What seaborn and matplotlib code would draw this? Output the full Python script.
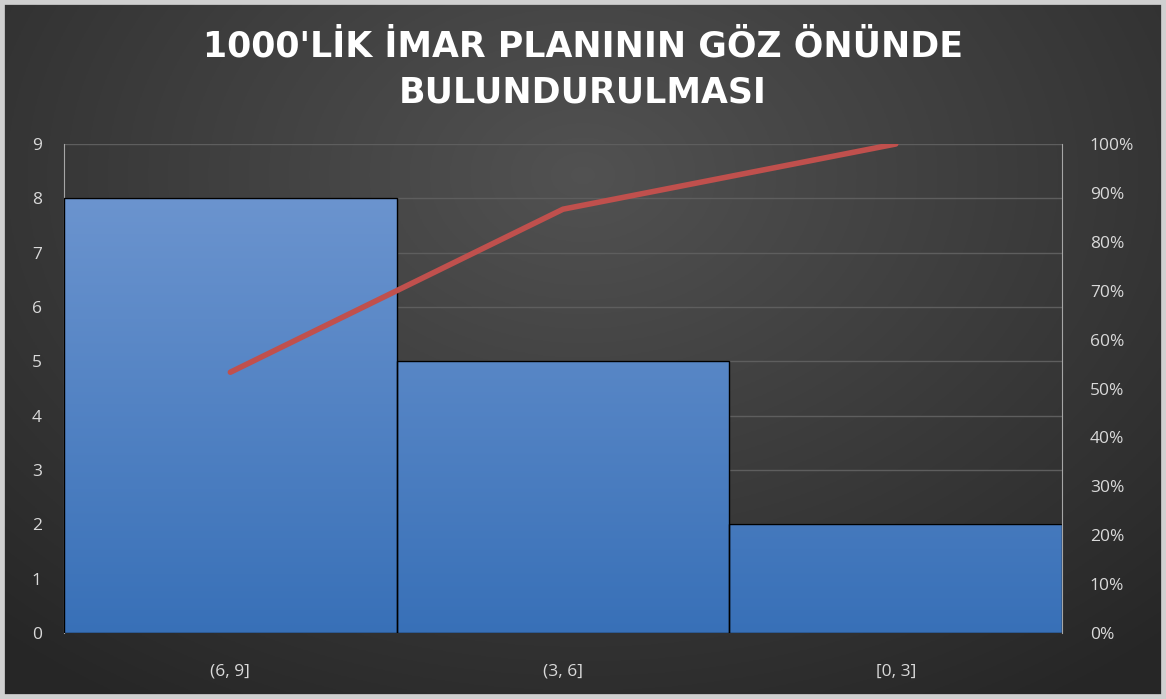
import numpy as np
import pandas as pd
import seaborn as sns
import matplotlib.pyplot as plt
from matplotlib.patches import Rectangle

# data
bins = ["(6, 9]", "(3, 6]", "[0, 3]"]
counts = [8, 5, 2]
cum_pct = [53.33, 86.67, 100.0]
left_ticks = list(range(0, 10))
right_ticks = list(range(0, 101, 10))

df = pd.DataFrame({"bin": bins, "count": counts})

sns.set_style("dark")
plt.rcParams["font.family"] = ["Open Sans", "DejaVu Sans"]

fig = plt.figure(figsize=(11.66, 6.99), dpi=100)

# radial gradient background
bg = fig.add_axes([0, 0, 1, 1], zorder=-10)
yy, xx = np.mgrid[0:1:300j, 0:1:500j]
r = np.sqrt(((xx - 0.5) / 0.75) ** 2 + ((yy - 0.25) / 0.9) ** 2)
shade = 0.32 - 0.17 * np.clip(r, 0, 1)
bg.imshow(np.dstack([shade, shade, shade]), extent=[0, 1, 0, 1], aspect="auto", origin="upper")
bg.set_axis_off()
fig.patches.append(Rectangle((0, 0), 1, 1, transform=fig.transFigure, fill=False,
                             edgecolor="#d0d0d0", linewidth=7, zorder=20))

ax = fig.add_axes([0.0549, 0.0944, 0.856, 0.6996])
ax.set_facecolor("none")
sns.barplot(data=df, x="bin", y="count", ax=ax, width=1.0, color="#4f81bd",
            edgecolor="black", linewidth=1.0, zorder=3)

# gradient fill in bars (same vertical gradient for all bars)
grad = np.linspace(0, 1, 256).reshape(-1, 1)
top_c = np.array([0.42, 0.58, 0.81])
bot_c = np.array([0.22, 0.44, 0.72])
img = top_c * (1 - grad[..., None]) + bot_c * grad[..., None]
img = img.reshape(256, 1, 3)
hmax = max(counts)
for p in ax.patches:
    x0, w = p.get_x(), p.get_width()
    im = ax.imshow(img, extent=[x0, x0 + w, 0, hmax], aspect="auto", origin="upper", zorder=3)
    im.set_clip_path(p)
    p.set_facecolor("none")
    p.set_zorder(4)

ax.set_xlim(-0.5, 2.5)
ax.set_ylim(0, 9)
ax.set_yticks(left_ticks)
ax.grid(axis="y", color="#5e5e5e", linewidth=1, zorder=0)
ax.grid(axis="x", visible=False)
ax.set_xlabel("")
ax.set_ylabel("")
ax.tick_params(axis="y", colors="#d9d9d9", labelsize=12.5, length=0, pad=16)
ax.tick_params(axis="x", colors="#d9d9d9", labelsize=12.5, length=0, pad=22)
for s in ["top", "bottom", "right"]:
    ax.spines[s].set_visible(False)
ax.spines["left"].set_color("#a6a6a6")

ax2 = ax.twinx()
sns.lineplot(x=list(range(len(bins))), y=cum_pct, ax=ax2, color="#c0504d", linewidth=4, zorder=5)
ax2.set_ylim(0, 100)
ax2.set_yticks(right_ticks)
ax2.set_yticklabels([f"{t}%" for t in right_ticks])
ax2.tick_params(axis="y", colors="#d9d9d9", labelsize=12.5, length=0, pad=20)
ax2.set_xlim(-0.5, 2.5)
for s in ["top", "bottom", "left"]:
    ax2.spines[s].set_visible(False)
ax2.spines["right"].set_color("#a6a6a6")
ax2.grid(False)

title_font = dict(ha="center", va="center", color="white", fontsize=25,
                  fontweight="bold", family="DejaVu Sans")
fig.text(0.5, 0.934, "1000'LİK İMAR PLANININ GÖZ ÖNÜNDE", **title_font)
fig.text(0.5, 0.867, "BULUNDURULMASI", **title_font)

fig.savefig("out.png", dpi=100)
